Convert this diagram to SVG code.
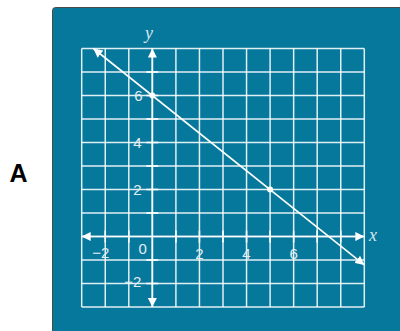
<svg xmlns="http://www.w3.org/2000/svg" width="400" height="331" viewBox="0 0 400 331">
<style>
.grid line{stroke:#ffffff;stroke-width:1.5;stroke-opacity:0.88}
.axis{stroke:#ffffff;stroke-width:1.6;fill:none}
.tick{stroke:#ffffff;stroke-width:1.6}
.num{font-family:"Liberation Sans",Arial,sans-serif;font-size:15px;fill:#e4edf1;text-anchor:middle}
.var{font-family:"Liberation Serif","Times New Roman",serif;font-style:italic;font-size:18px;fill:#d6e6ee;text-anchor:middle}
</style>
<defs>
<marker id="arr" viewBox="0 0 10 10" refX="10" refY="5" markerUnits="userSpaceOnUse" markerWidth="9" markerHeight="9" orient="auto-start-reverse">
<path d="M0,0 L10,5 L0,10 z" fill="#ffffff"/>
</marker>
</defs>
<text x="18.5" y="181.5" font-family="Liberation Sans,Arial,sans-serif" font-size="25" font-weight="bold" text-anchor="middle" fill="#000000">A</text>
<rect x="52.5" y="7.5" width="360" height="340" rx="3" fill="#06789c" stroke="#4a4a4a" stroke-width="1"/>
<g class="grid" id="grid">
<line x1="81.7" y1="48.5" x2="81.7" y2="307"/>
<line x1="105.25" y1="48.5" x2="105.25" y2="307"/>
<line x1="128.8" y1="48.5" x2="128.8" y2="307"/>
<line x1="152.35" y1="48.5" x2="152.35" y2="307"/>
<line x1="175.9" y1="48.5" x2="175.9" y2="307"/>
<line x1="199.45" y1="48.5" x2="199.45" y2="307"/>
<line x1="223" y1="48.5" x2="223" y2="307"/>
<line x1="246.55" y1="48.5" x2="246.55" y2="307"/>
<line x1="270.1" y1="48.5" x2="270.1" y2="307"/>
<line x1="293.65" y1="48.5" x2="293.65" y2="307"/>
<line x1="317.2" y1="48.5" x2="317.2" y2="307"/>
<line x1="340.75" y1="48.5" x2="340.75" y2="307"/>
<line x1="364.3" y1="48.5" x2="364.3" y2="307"/>
<line x1="81.7" y1="48.5" x2="364.3" y2="48.5"/>
<line x1="81.7" y1="72" x2="364.3" y2="72"/>
<line x1="81.7" y1="95.5" x2="364.3" y2="95.5"/>
<line x1="81.7" y1="119" x2="364.3" y2="119"/>
<line x1="81.7" y1="142.5" x2="364.3" y2="142.5"/>
<line x1="81.7" y1="166" x2="364.3" y2="166"/>
<line x1="81.7" y1="189.5" x2="364.3" y2="189.5"/>
<line x1="81.7" y1="213" x2="364.3" y2="213"/>
<line x1="81.7" y1="236.5" x2="364.3" y2="236.5"/>
<line x1="81.7" y1="260" x2="364.3" y2="260"/>
<line x1="81.7" y1="283.5" x2="364.3" y2="283.5"/>
<line x1="81.7" y1="307" x2="364.3" y2="307"/>
</g>
<g id="axes">
<line class="axis" x1="81.7" y1="236.5" x2="364.3" y2="236.5" marker-start="url(#arr)" marker-end="url(#arr)"/>
<line class="axis" x1="152.35" y1="48.5" x2="152.35" y2="307" marker-start="url(#arr)" marker-end="url(#arr)"/>
<g id="ticks">
<line class="tick" x1="146.35" y1="72" x2="158.35" y2="72"/>
<line class="tick" x1="146.35" y1="95.5" x2="158.35" y2="95.5"/>
<line class="tick" x1="146.35" y1="119" x2="158.35" y2="119"/>
<line class="tick" x1="146.35" y1="142.5" x2="158.35" y2="142.5"/>
<line class="tick" x1="146.35" y1="166" x2="158.35" y2="166"/>
<line class="tick" x1="146.35" y1="189.5" x2="158.35" y2="189.5"/>
<line class="tick" x1="146.35" y1="213" x2="158.35" y2="213"/>
<line class="tick" x1="146.35" y1="260" x2="158.35" y2="260"/>
<line class="tick" x1="146.35" y1="283.5" x2="158.35" y2="283.5"/>
<line class="tick" x1="105.25" y1="230.5" x2="105.25" y2="242.5"/>
<line class="tick" x1="128.8" y1="230.5" x2="128.8" y2="242.5"/>
<line class="tick" x1="175.9" y1="230.5" x2="175.9" y2="242.5"/>
<line class="tick" x1="199.45" y1="230.5" x2="199.45" y2="242.5"/>
<line class="tick" x1="223" y1="230.5" x2="223" y2="242.5"/>
<line class="tick" x1="246.55" y1="230.5" x2="246.55" y2="242.5"/>
<line class="tick" x1="270.1" y1="230.5" x2="270.1" y2="242.5"/>
<line class="tick" x1="293.65" y1="230.5" x2="293.65" y2="242.5"/>
<line class="tick" x1="317.2" y1="230.5" x2="317.2" y2="242.5"/>
<line class="tick" x1="340.75" y1="230.5" x2="340.75" y2="242.5"/>
</g>
<text class="var" x="149" y="38.5">y</text>
<text class="var" x="373" y="240.5">x</text>
</g>
<g id="labels">
<text class="num" x="138.3" y="101">6</text>
<text class="num" x="137.5" y="148">4</text>
<text class="num" x="137.5" y="195">2</text>
<text class="num" x="132.7" y="286.5">−2</text>
<text class="num" x="100.7" y="257.5">−2</text>
<text class="num" x="142.7" y="254">0</text>
<text class="num" x="199.45" y="258.5">2</text>
<text class="num" x="246.3" y="258.5">4</text>
<text class="num" x="293.6" y="258.5">6</text>
</g>
<g id="line">
<line class="axis" x1="93.4" y1="48.5" x2="364.3" y2="264.9" marker-start="url(#arr)" marker-end="url(#arr)"/>
<circle cx="152.35" cy="95.5" r="3" fill="#ffffff"/>
<circle cx="270.1" cy="189.5" r="3" fill="#ffffff"/>
</g>
</svg>
